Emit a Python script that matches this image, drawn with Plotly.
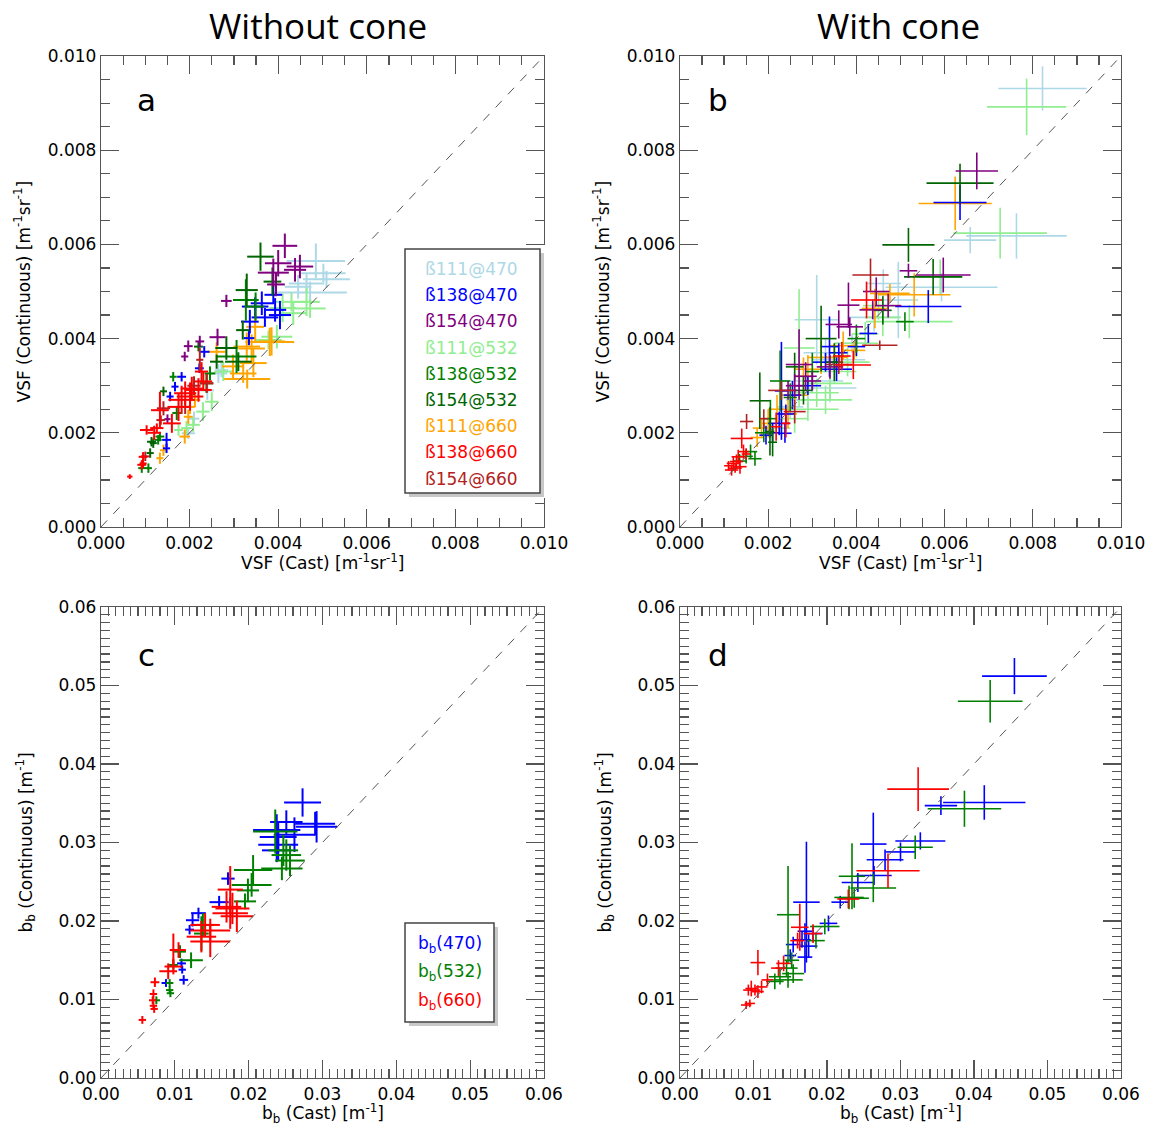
import plotly.graph_objects as go

# ---------------- data ----------------
# Panels a/b: values in units of 1e-3 m^-1 sr^-1 : (x_cast, y_continuous, x_err, y_err)
A_111_470 = [(4.85,5.65,0.66,0.37),(5.09,5.26,0.53,0.18),(5.02,5.39,0.50,0.20),(4.72,4.98,0.83,0.23),(4.64,5.17,0.40,0.20),(4.45,5.10,0.30,0.25),(2.72,3.33,0.15,0.15),(2.65,3.26,0.20,0.20),(1.97,1.99,0.15,0.12),(2.10,2.30,0.12,0.15),(2.40,2.90,0.15,0.20)]
A_138_470 = [(3.63,4.75,0.25,0.25),(3.93,4.61,0.25,0.25),(4.04,4.50,0.25,0.30),(3.48,4.68,0.30,0.20),(3.89,4.93,0.20,0.20),(3.36,4.36,0.20,0.25),(3.34,4.01,0.12,0.15),(2.33,3.72,0.12,0.12),(2.22,3.37,0.10,0.10),(1.82,3.19,0.10,0.10),(1.67,2.98,0.08,0.10),(1.56,2.77,0.08,0.10),(1.48,1.85,0.10,0.15),(1.48,1.67,0.08,0.10),(3.70,4.45,0.30,0.20)]
A_154_470 = [(4.15,5.97,0.28,0.26),(4.49,5.53,0.30,0.25),(4.38,5.46,0.25,0.25),(4.00,5.60,0.30,0.28),(3.89,5.40,0.35,0.30),(3.95,5.15,0.20,0.25),(2.83,4.80,0.12,0.13),(2.63,4.03,0.18,0.18),(2.23,3.94,0.10,0.12),(1.97,3.84,0.10,0.12),(1.89,3.62,0.08,0.10),(1.50,2.29,0.07,0.10)]
A_111_532 = [(4.30,4.78,0.35,0.20),(4.72,4.64,0.35,0.20),(4.64,4.78,0.30,0.30),(4.34,4.54,0.30,0.25),(3.97,4.04,0.35,0.25),(3.78,3.97,0.30,0.20),(2.76,3.30,0.20,0.20),(2.50,2.66,0.15,0.20),(1.93,2.10,0.12,0.15),(1.75,2.06,0.10,0.12),(2.08,2.17,0.15,0.15),(4.10,4.65,0.30,0.30),(2.30,2.45,0.15,0.20)]
A_138_532 = [(3.27,4.82,0.29,0.44),(3.49,4.68,0.20,0.30),(3.06,3.62,0.45,0.35),(2.38,3.05,0.15,0.20),(1.63,3.19,0.08,0.10),(1.71,2.42,0.10,0.15),(1.33,1.92,0.10,0.10),(0.92,1.25,0.08,0.10),(2.46,3.26,0.12,0.15),(1.29,1.85,0.08,0.10),(1.07,1.25,0.08,0.10)]
A_154_532 = [(3.60,5.74,0.30,0.30),(3.87,5.21,0.20,0.30),(3.29,5.03,0.25,0.35),(3.20,4.18,0.15,0.20),(2.83,3.80,0.25,0.25),(2.20,3.83,0.10,0.10),(1.41,2.88,0.08,0.10),(1.14,1.81,0.10,0.10),(1.11,1.57,0.08,0.10),(2.61,3.51,0.15,0.15),(3.10,3.51,0.30,0.20),(1.18,1.78,0.08,0.10)]
A_111_660 = [(3.48,4.25,0.20,0.30),(3.81,3.93,0.55,0.30),(3.40,3.79,0.30,0.30),(3.21,3.26,0.30,0.20),(3.44,3.48,0.30,0.30),(3.29,3.83,0.30,0.30),(2.98,3.41,0.25,0.25),(3.30,3.14,0.52,0.20),(2.61,3.72,0.20,0.20),(2.12,2.70,0.12,0.15),(2.01,2.55,0.12,0.15),(1.33,1.46,0.08,0.12),(1.41,1.63,0.08,0.12),(1.89,1.92,0.12,0.15),(1.97,2.34,0.10,0.15),(3.85,3.94,0.30,0.30)]
A_138_660 = [(0.65,1.07,0.06,0.05),(0.92,1.32,0.10,0.10),(0.95,1.49,0.10,0.10),(1.03,2.06,0.15,0.10),(1.26,2.10,0.15,0.10),(1.33,2.48,0.20,0.39),(1.82,2.70,0.30,0.30),(1.90,2.84,0.25,0.25),(2.20,2.91,0.30,0.25),(2.31,3.09,0.20,0.20),(2.27,3.30,0.15,0.20),(2.05,2.94,0.25,0.25),(1.75,2.55,0.25,0.30),(2.01,2.77,0.30,0.30),(1.60,2.20,0.20,0.20),(1.20,2.00,0.15,0.15),(0.95,1.35,0.08,0.10)]
A_154_660 = [(2.23,3.55,0.08,0.25),(2.39,3.05,0.15,0.20),(1.41,2.52,0.15,0.15),(1.00,1.50,0.10,0.10),(1.90,2.55,0.10,0.15),(1.35,2.27,0.10,0.10),(2.10,3.00,0.15,0.20)]

B_111_470 = [(8.22,9.31,1.00,0.47),(7.63,6.18,1.14,0.48),(6.58,6.09,0.59,0.28),(5.93,5.09,1.27,0.30),(4.95,4.82,0.45,0.81),(4.61,5.17,0.40,0.30),(3.10,4.40,0.50,0.95),(3.30,3.70,0.50,0.30),(3.60,3.55,0.60,0.30),(3.00,3.10,0.70,0.25),(3.40,2.95,0.60,0.30),(2.90,2.70,0.50,0.25),(2.50,2.55,0.30,0.25),(4.40,4.45,0.60,0.30),(3.90,3.90,0.40,0.20)]
B_138_470 = [(6.35,6.89,0.60,0.37),(5.63,4.68,0.75,0.35),(4.27,4.11,0.20,0.20),(4.00,3.83,0.20,0.20),(3.39,3.83,0.20,0.64),(3.60,3.70,0.20,0.20),(3.30,3.50,0.30,0.20),(2.30,2.89,0.15,1.04),(2.25,2.20,0.25,0.25),(2.10,2.00,0.15,0.20),(2.40,2.40,0.20,0.20),(2.55,2.80,0.20,0.30),(2.90,3.00,0.30,0.20),(3.55,3.35,0.35,0.25),(2.38,1.99,0.15,0.20),(1.95,1.95,0.15,0.20)]
B_154_470 = [(6.73,7.56,0.48,0.39),(5.97,5.35,0.62,0.37),(5.18,5.44,0.20,0.15),(3.82,4.71,0.25,0.48),(3.85,4.25,0.30,0.20),(4.72,4.70,0.30,0.25),(2.70,3.45,0.30,0.75),(3.40,3.40,0.30,0.25),(2.60,3.00,0.20,0.25),(2.45,2.90,0.20,0.20),(3.00,3.10,0.20,0.20),(4.37,4.61,0.30,0.20),(4.45,5.00,0.30,0.30),(3.60,4.30,0.30,0.30),(2.85,3.20,0.25,0.30)]
B_111_532 = [(7.86,8.92,0.90,0.60),(7.26,6.24,1.06,0.54),(5.90,5.31,0.50,0.37),(5.20,4.36,0.98,0.35),(2.70,3.80,0.35,1.25),(4.50,4.70,0.35,0.30),(4.20,4.10,0.30,0.25),(3.80,3.50,0.50,0.30),(3.50,3.30,0.50,0.25),(3.30,2.70,0.60,0.30),(2.90,2.50,0.70,0.25),(3.10,2.85,0.50,0.30),(2.60,2.30,0.30,0.30),(2.30,2.10,0.20,0.20),(4.60,4.45,0.40,0.40),(4.00,3.90,0.50,0.30),(3.40,3.05,0.50,0.35)]
B_138_532 = [(5.10,4.36,0.20,0.20),(2.27,3.10,0.23,0.65),(2.05,2.30,0.15,0.40),(1.90,2.00,0.20,0.20),(1.60,1.60,0.15,0.15),(1.50,1.50,0.15,0.15),(1.70,1.45,0.15,0.15),(2.50,2.75,0.15,0.30),(3.00,3.30,0.15,0.40),(4.00,4.00,0.20,0.30),(1.35,1.40,0.15,0.15)]
B_154_532 = [(6.35,7.30,0.76,0.41),(5.18,5.99,0.59,0.36),(5.74,5.31,0.66,0.38),(3.20,4.00,0.35,0.70),(1.81,2.68,0.23,0.60),(2.10,1.80,0.10,0.30),(2.80,2.90,0.20,0.30),(3.50,3.50,0.20,0.40),(4.60,4.60,0.20,0.30),(2.60,3.40,0.20,0.30),(2.04,2.03,0.10,0.51)]
B_111_660 = [(6.24,6.87,0.83,0.57),(5.31,4.93,0.82,0.46),(4.42,4.64,0.30,0.42),(4.76,4.96,0.45,0.20),(2.90,3.35,0.30,0.30),(3.50,3.60,0.30,0.30),(3.70,3.85,0.30,0.30),(3.20,3.60,0.30,0.35),(2.60,2.80,0.30,0.30),(2.20,2.50,0.20,0.30),(2.00,2.20,0.15,0.30),(1.85,2.10,0.20,0.20),(1.75,1.90,0.15,0.20),(2.45,2.40,0.20,0.30),(3.95,3.75,0.25,0.20),(2.80,3.20,0.20,0.40)]
B_138_660 = [(4.23,4.82,0.35,0.39),(3.93,3.44,0.40,0.30),(1.40,1.88,0.25,0.21),(1.21,1.35,0.15,0.15),(1.32,1.49,0.15,0.15),(1.36,1.28,0.15,0.15),(1.17,1.21,0.15,0.12),(1.44,1.60,0.12,0.15),(1.28,1.39,0.15,0.15),(1.50,1.55,0.10,0.12),(1.25,1.25,0.15,0.10),(1.10,1.30,0.10,0.10),(2.40,2.20,0.10,0.30),(3.67,3.63,0.20,0.30),(2.18,2.13,0.12,0.30)]
B_154_660 = [(4.32,5.35,0.41,0.35),(4.53,3.86,0.40,0.10),(1.51,2.24,0.15,0.16),(2.30,2.90,0.30,0.20),(2.60,2.45,0.25,0.25),(3.60,3.45,0.30,0.20),(1.90,2.30,0.10,0.20)]

# Panels c/d: values in units of 1e-2 m^-1
C_470 = [(2.73,3.51,0.25,0.18),(2.90,3.24,0.27,0.15),(2.92,3.20,0.28,0.20),(2.51,3.26,0.22,0.15),(2.38,3.16,0.32,0.20),(2.40,3.07,0.25,0.20),(2.40,2.97,0.27,0.20),(2.38,2.90,0.20,0.15),(1.72,2.54,0.09,0.08),(1.60,2.24,0.13,0.08),(1.32,2.10,0.10,0.07),(1.24,2.01,0.09,0.08),(1.20,1.89,0.06,0.06),(1.09,1.46,0.06,0.06),(1.10,1.38,0.05,0.05),(1.12,1.25,0.06,0.06),(0.88,1.21,0.06,0.05),(2.62,3.10,0.28,0.22)]
C_532 = [(2.36,3.14,0.30,0.28),(2.47,2.90,0.20,0.20),(2.51,2.84,0.20,0.20),(2.56,2.77,0.20,0.20),(2.45,2.67,0.28,0.15),(2.06,2.65,0.26,0.19),(2.04,2.46,0.27,0.15),(1.99,2.39,0.15,0.15),(1.95,2.25,0.15,0.10),(1.36,1.84,0.10,0.22),(1.38,1.95,0.15,0.15),(1.22,1.50,0.16,0.10),(1.07,1.61,0.08,0.08),(0.98,1.44,0.06,0.06),(0.93,1.21,0.05,0.05),(0.93,1.12,0.05,0.05),(0.94,1.08,0.05,0.05),(0.75,0.99,0.05,0.05)]
C_660 = [(1.75,2.40,0.17,0.30),(1.78,2.16,0.23,0.20),(1.75,2.10,0.24,0.20),(1.84,2.06,0.22,0.20),(1.70,2.18,0.20,0.20),(1.48,1.88,0.27,0.15),(1.41,1.95,0.20,0.15),(1.48,1.74,0.27,0.20),(1.36,1.80,0.20,0.20),(0.98,1.63,0.05,0.21),(1.05,1.63,0.10,0.10),(0.91,1.36,0.12,0.10),(0.98,1.42,0.12,0.10),(0.73,1.22,0.06,0.06),(0.71,1.07,0.05,0.06),(0.70,0.99,0.05,0.05),(0.71,0.92,0.05,0.05),(0.72,0.88,0.05,0.05),(0.56,0.74,0.05,0.05)]

D_470 = [(4.55,5.12,0.44,0.23),(4.14,3.51,0.56,0.22),(3.55,3.47,0.22,0.12),(3.27,3.02,0.34,0.11),(3.00,2.88,0.20,0.12),(2.63,2.98,0.18,0.40),(2.79,2.78,0.25,0.13),(2.64,2.58,0.24,0.12),(1.72,2.24,0.18,0.77),(2.42,2.49,0.22,0.12),(2.18,2.24,0.12,0.08),(2.02,1.97,0.12,0.10),(1.81,1.84,0.13,0.10),(1.70,1.87,0.10,0.10),(1.66,1.76,0.12,0.10),(1.54,1.70,0.10,0.10),(1.75,1.68,0.12,0.15),(1.50,1.56,0.08,0.08),(1.70,1.54,0.10,0.20)]
D_532 = [(4.22,4.80,0.44,0.27),(3.87,3.43,0.50,0.23),(3.20,2.94,0.24,0.15),(2.34,2.57,0.18,0.42),(2.63,2.42,0.31,0.18),(2.37,2.29,0.20,0.12),(1.47,2.08,0.15,0.62),(1.97,1.93,0.20,0.10),(1.45,1.40,0.15,0.10),(1.36,1.29,0.15,0.10),(1.29,1.23,0.12,0.10),(1.47,1.25,0.20,0.10),(1.54,1.33,0.15,0.12),(1.52,1.50,0.10,0.10),(2.30,2.30,0.20,0.15),(1.85,1.75,0.12,0.10)]
D_660 = [(3.24,3.68,0.42,0.28),(2.83,2.64,0.43,0.22),(2.29,2.28,0.15,0.12),(1.63,1.92,0.12,0.30),(1.81,1.84,0.12,0.12),(1.41,1.46,0.10,0.10),(1.34,1.40,0.10,0.10),(1.06,1.47,0.10,0.16),(0.97,1.14,0.08,0.10),(0.93,1.12,0.07,0.07),(1.11,1.16,0.08,0.08),(1.06,1.10,0.08,0.08),(0.95,0.95,0.07,0.05),(0.90,0.93,0.07,0.05),(1.02,1.12,0.07,0.07),(1.19,1.25,0.08,0.08),(1.60,1.75,0.10,0.10)]

VSF_LABELS = ["ß111@470", "ß138@470", "ß154@470", "ß111@532", "ß138@532", "ß154@532", "ß111@660", "ß138@660", "ß154@660"]
VSF_COLORS = ["#ADD8E6", "#0000FF", "#800080", "#90EE90", "#008000", "#006400", "#FFA500", "#FF0000", "#B22222"]
BB_LABELS = ["b<sub>b</sub>(470)", "b<sub>b</sub>(532)", "b<sub>b</sub>(660)"]
BB_COLORS = ["#0000FF", "#008000", "#FF0000"]

VSF_SCALE = 1e-3
BB_SCALE = 1e-2

# ---------------- layout helpers ----------------
W, H = 1152, 1129
def fx(p):
    return p / W
def fy(p):
    return 1 - p / H

BOX = {
    "a": (101, 544, 56, 527),
    "b": (680, 1121, 56, 527),
    "c": (101, 544, 607, 1078),
    "d": (680, 1121, 607, 1078),
}
AX = {"a": ("x", "y"), "b": ("x2", "y2"), "c": ("x3", "y3"), "d": ("x4", "y4")}

fig = go.Figure()

def add_series(panel, data, color, scale, thick):
    xa, ya = AX[panel]
    fig.add_trace(go.Scatter(
        x=[d[0] * scale for d in data], y=[d[1] * scale for d in data],
        mode="markers", marker=dict(size=1, color=color),
        error_x=dict(type="data", array=[d[2] * scale for d in data], width=0, thickness=thick, color=color),
        error_y=dict(type="data", array=[d[3] * scale for d in data], width=0, thickness=thick, color=color),
        xaxis=xa, yaxis=ya, showlegend=False, hoverinfo="skip"))

a_series = [A_111_470, A_138_470, A_154_470, A_111_532, A_138_532, A_154_532, A_111_660, A_138_660, A_154_660]
b_series = [B_111_470, B_138_470, B_154_470, B_111_532, B_138_532, B_154_532, B_111_660, B_138_660, B_154_660]
order = [0, 3, 6, 1, 4, 5, 2, 8, 7]
for i in order:
    add_series("a", a_series[i], VSF_COLORS[i], VSF_SCALE, 2)
for i in order:
    add_series("b", b_series[i], VSF_COLORS[i], VSF_SCALE, 1.6)
for data, col in zip([C_470, C_532, C_660], BB_COLORS):
    add_series("c", data, col, BB_SCALE, 2)
for data, col in zip([D_470, D_532, D_660], BB_COLORS):
    add_series("d", data, col, BB_SCALE, 1.6)

# 1:1 lines
for p, mx in [("a", 0.01), ("b", 0.01), ("c", 0.06), ("d", 0.06)]:
    xa, ya = AX[p]
    fig.add_trace(go.Scatter(x=[0, mx], y=[0, mx], mode="lines",
                             line=dict(color="#555555", width=1, dash="dash"),
                             xaxis=xa, yaxis=ya, showlegend=False, hoverinfo="skip"))

TICKFONT = dict(family="DejaVu Sans", size=17, color="black")
AXCOL = "#555555"

def axis_common(rng, dtick, minor_dtick, fmt):
    return dict(range=rng, dtick=dtick, tick0=0, tickformat=fmt, showgrid=False, zeroline=False,
                showline=True, linecolor=AXCOL, linewidth=1.2, mirror="allticks",
                ticks="inside", ticklen=18, tickwidth=1.2, tickcolor=AXCOL,
                minor=dict(ticks="inside", ticklen=9, tickwidth=1.2, tickcolor=AXCOL, dtick=minor_dtick, tick0=0, showgrid=False),
                tickfont=TICKFONT, fixedrange=True, automargin=False)

layout = dict(width=W, height=H, margin=dict(l=0, r=0, t=0, b=0, autoexpand=False),
              paper_bgcolor="white", plot_bgcolor="white", showlegend=False)
for i, p in enumerate(["a", "b", "c", "d"]):
    x0, x1, y0, y1 = BOX[p]
    suf = "" if i == 0 else str(i + 1)
    if p in ("a", "b"):
        xa = axis_common([0, 0.0100001], 0.002, 0.0005, ".3f")
        ya = axis_common([0, 0.0100001], 0.002, 0.0005, ".3f")
    else:
        xa = axis_common([0, 0.0600001], 0.01, 0.001, ".2f")
        ya = axis_common([0, 0.0600001], 0.01, 0.001, ".2f")
    xa.update(domain=[fx(x0), fx(x1)], anchor="y" + suf)
    ya.update(domain=[fy(y1), fy(y0)], anchor="x" + suf)
    layout["xaxis" + suf] = xa
    layout["yaxis" + suf] = ya
fig.update_layout(**layout)

ann = []
shapes = []
LBLFONT = dict(family="DejaVu Sans", size=17, color="black")
# column titles (box anchored at the top of the figure)
ann.append(dict(text="Without cone", x=fx(318), y=1, xref="paper", yref="paper", showarrow=False,
                font=dict(family="Open Sans", size=35, color="black"), xanchor="center", yanchor="top"))
ann.append(dict(text="With cone", x=fx(898), y=1, xref="paper", yref="paper", showarrow=False,
                font=dict(family="Open Sans", size=35, color="black"), xanchor="center", yanchor="top"))
# axis titles
vsf_x = "VSF (Cast) [m<sup>-1</sup>sr<sup>-1</sup>]"
vsf_y = "VSF (Continuous) [m<sup>-1</sup>sr<sup>-1</sup>]"
bb_x = "b<sub>b</sub> (Cast) [m<sup>-1</sup>]"
bb_y = "b<sub>b</sub> (Continuous) [m<sup>-1</sup>]"
for p, tx, ty, ylx in [("a", vsf_x, vsf_y, 22), ("b", vsf_x, vsf_y, 601), ("c", bb_x, bb_y, 26), ("d", bb_x, bb_y, 605)]:
    x0, x1, y0, y1 = BOX[p]
    ann.append(dict(text=tx, x=fx((x0 + x1) / 2), y=fy(y1 + 35), xref="paper", yref="paper", showarrow=False,
                    font=LBLFONT, xanchor="center", yanchor="middle"))
    ann.append(dict(text=ty, x=fx(ylx), y=fy((y0 + y1) / 2), xref="paper", yref="paper", showarrow=False,
                    font=LBLFONT, xanchor="center", yanchor="middle", textangle=-90))
# panel letters
for p, (lx, ly) in {"a": (146, 100), "b": (718, 100), "c": (146, 655), "d": (718, 655)}.items():
    ann.append(dict(text=p, x=fx(lx), y=fy(ly), xref="paper", yref="paper", showarrow=False,
                    font=dict(family="DejaVu Sans", size=31, color="black"), xanchor="center", yanchor="middle"))

def legend_box(x0, y0, x1, y1, mask_right=None):
    if mask_right is not None:
        shapes.append(dict(type="rect", xref="paper", yref="paper", x0=fx(x0 - 3), x1=fx(mask_right),
                           y0=fy(y1 + 5), y1=fy(y0 - 4), fillcolor="white", line=dict(width=0), layer="above"))
    shapes.append(dict(type="rect", xref="paper", yref="paper", x0=fx(x0 + 4), x1=fx(x1 + 4),
                       y0=fy(y1 + 4), y1=fy(y0 + 4), fillcolor="#C8C8C8", line=dict(width=0), layer="above"))
    shapes.append(dict(type="rect", xref="paper", yref="paper", x0=fx(x0), x1=fx(x1),
                       y0=fy(y1), y1=fy(y0), fillcolor="white", line=dict(color="#444444", width=1.5), layer="above"))

legend_box(405, 249, 540, 493, mask_right=549)
for k, (lab, col) in enumerate(zip(VSF_LABELS, VSF_COLORS)):
    ann.append(dict(text=lab, x=fx(423), y=fy(269 + k * 26.2), xref="paper", yref="paper", showarrow=False,
                    font=dict(family="DejaVu Sans", size=17, color=col), xanchor="left", yanchor="middle"))
legend_box(405, 923, 494, 1022)
for k, (lab, col) in enumerate(zip(BB_LABELS, BB_COLORS)):
    ann.append(dict(text=lab, x=fx(416), y=fy(944 + k * 28.5), xref="paper", yref="paper", showarrow=False,
                    font=dict(family="DejaVu Sans", size=17, color=col), xanchor="left", yanchor="middle"))

fig.update_layout(annotations=ann, shapes=shapes)
# remove the browser's default 8 px body margin so the 1152x1129 figure fills the window exactly
fig.write_html("out.html", config={"displayModeBar": False, "staticPlot": True},
               post_script="document.body.style.margin='0px';document.body.style.overflow='hidden';")
